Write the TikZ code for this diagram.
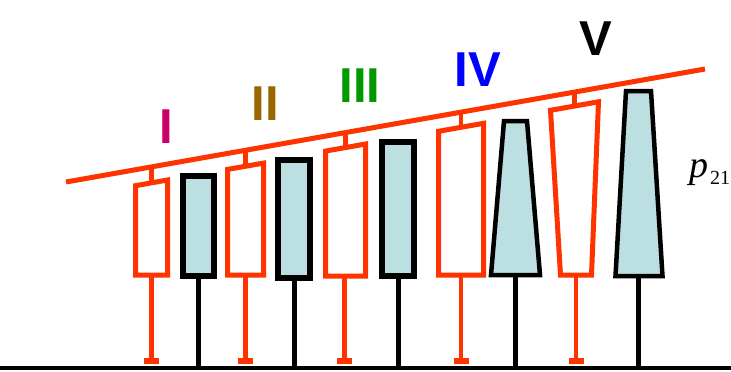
\documentclass[tikz,border=0pt]{standalone}
\usepackage{fontspec}
\setmainfont{Liberation Sans}
\newfontfamily\seriffam{Liberation Serif}
\definecolor{wire}{HTML}{FF3300}
\definecolor{cellfill}{HTML}{BCDFE2}
\definecolor{labI}{HTML}{CC0066}
\definecolor{labII}{HTML}{996600}
\definecolor{labIII}{HTML}{009900}
\definecolor{labIV}{HTML}{0000FF}
\tikzset{
  redbox/.style={draw=wire, line width=5pt, line join=miter},
  bluebox/.style={draw=black, fill=cellfill, line width=6pt, line join=miter},
  bluetrap/.style={draw=black, fill=cellfill, line width=4.5pt, line join=miter},
  redstem/.style={draw=wire, line width=4.5pt},
  blackstem/.style={draw=black, line width=5pt},
  foot/.style={draw=wire, line width=5.5pt},
  roman/.style={font=\fontsize{49}{49}\selectfont\bfseries, anchor=base, inner sep=0pt}
}
\begin{document}
\begin{tikzpicture}[x=1pt, y=-1pt]
\useasboundingbox (0,0) rectangle (731,372);

% ground line and slanted rail
\draw[black, line width=4pt] (0,368) -- (731,368);
\draw[wire, line width=5pt] (66,182) coordinate (railA) -- (705,69) coordinate (railB);

% rail hangers (from rail down to each red box)
\foreach \x/\ya/\yb in {151.5/167.4/183.2, 245.5/150.3/166.3, 345.5/132.6/148.1, 461/112.1/127.1, 574.5/92.1/106.1}
  \draw[wire, line width=4.5pt] (\x,\ya) -- (\x,\yb);

% red open boxes with slanted tops
\draw[redbox] (135.5,275) -- (135.5,185.7) -- (167.5,180.0) -- (167.5,275) -- cycle;
\draw[redbox] (227.5,275) -- (227.5,169.4) -- (263.5,163.1) -- (263.5,275) -- cycle;
\draw[redbox] (325.5,276) -- (325.5,151.1) -- (365.5,144.0) -- (365.5,276) -- cycle;
\draw[redbox] (438.5,275) -- (438.5,131.3) -- (483.5,123.3) -- (483.5,275) -- cycle;
\draw[redbox] (560.5,275) -- (550.5,110.3) -- (598.5,101.8) -- (591.5,275) -- cycle;

% red stems with feet
\foreach \x/\yt in {151.5/275, 245.5/275, 344.5/276, 461/275, 576/275} {
  \draw[redstem] (\x,\yt) -- (\x,361);
  \draw[foot] (\x-7.5,361) -- (\x+7.5,361);
}

% filled black-outlined boxes
\draw[bluebox] (183,276) rectangle (214,176);
\draw[bluebox] (278,278) rectangle (310,160);
\draw[bluebox] (382,276) rectangle (414,142);
\draw[bluetrap] (491,275) -- (504,121) -- (527,121) -- (540,275) -- cycle;
\draw[bluetrap] (615.5,276) -- (626,91) -- (651,91) -- (662.5,276) -- cycle;

% black stems to ground
\foreach \x/\yt in {198.5/279, 294/281, 398/279, 515.5/277, 638.5/278}
  \draw[blackstem] (\x,\yt) -- (\x,367);

% group labels
\node[roman, text=labI]   (lI)   at (166,143) {I};
\node[roman, text=labII]  (lII)  at (265,120) {II};
\node[roman, text=labIII] (lIII) at (360,102) {III};
\node[roman, text=labIV]  (lIV)  at (478,86)  {IV};
\node[roman, text=black]  (lV)   at (596,55)  {V};

% pressure label
\node[anchor=base west, inner sep=0pt] (p21) at (689,177)
  {\seriffam\fontsize{38}{38}\selectfont\itshape p\hspace{2pt}\raisebox{-7pt}{\upshape\fontsize{20}{20}\selectfont 21}};
\end{tikzpicture}
\end{document}
